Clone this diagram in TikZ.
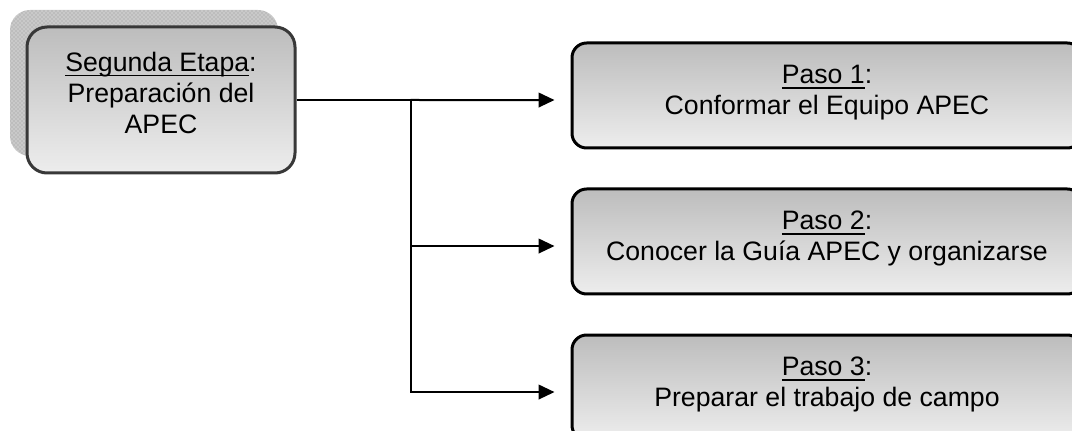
\documentclass[tikz,border=0pt]{standalone}
\usepackage{fontspec}
\setmainfont{Liberation Sans}
\usetikzlibrary{positioning}
\usetikzlibrary{arrows.meta}
\usetikzlibrary{shadows}
\usetikzlibrary{patterns}

\definecolor{boxtop}{gray}{0.74}
\definecolor{boxbot}{gray}{0.93}
\definecolor{etapaline}{gray}{0.22}

\newcommand{\ulword}[1]{\setbox0\hbox{#1}\rlap{\rule[-4pt]{\wd0}{1.3pt}}\box0}

\begin{document}
\begin{tikzpicture}[x=0.75pt, y=-0.75pt, node distance=28.5pt,
  etapabox/.style={draw=etapaline, line width=2.25pt, rounded corners=15pt,
    top color=boxtop, bottom color=boxbot,
    minimum width=201pt, minimum height=109.5pt,
    general shadow={shadow xshift=-12.75pt, shadow yshift=12.75pt, fill=gray!42},
    general shadow={shadow xshift=-12.75pt, shadow yshift=12.75pt,
      pattern=crosshatch dots, pattern color=gray!80}},
  stepbox/.style={draw=black, line width=2.25pt, rounded corners=11pt,
    top color=boxtop, bottom color=boxbot,
    minimum width=382.5pt, minimum height=78.75pt},
  boxtext/.style={align=center, font=\fontsize{20pt}{23.25pt}\selectfont, inner sep=0pt},
  flow/.style={-{Triangle[length=12pt,width=11pt]}, line width=1.5pt, shorten >=12pt},
  link/.style={line width=1.5pt}]
\useasboundingbox (0,0) rectangle (1072,431);
\clip (0,0) rectangle (1072,431);
%%%%%%%%%%%%%%%%%%%%%%%%%%%%%%%%%%%%%
\node[etapabox] (etapa) at (161,100) {};
\node[boxtext] (etapatxt) at ([yshift=5.6pt]etapa.center) {\ulword{Segunda Etapa}:\\Preparación del\\APEC};
%%%%%%%%%%%%%%%%%%%%%%%%%%%%%%%%%%%%%
\node[stepbox] (p1) at (827,95.5) {};
\node[stepbox, below=of p1] (p2) {};
\node[stepbox, below=of p2] (p3) {};
\node[boxtext] (p1txt) at ([yshift=2pt]p1.center) {\ulword{Paso 1}:\\Conformar el Equipo APEC};
\node[boxtext] (p2txt) at ([yshift=2pt]p2.center) {\ulword{Paso 2}:\\Conocer la Guía APEC y organizarse};
\node[boxtext] (p3txt) at ([yshift=2pt]p3.center) {\ulword{Paso 3}:\\Preparar el trabajo de campo};
%%%%%%%%%%%%%%%%%%%%%%%%%%%%%%%%%%%%%
\coordinate[right=85.5pt of etapa.east] (split);

\draw[link] (etapa.east) -- (split);
\draw[flow] (split) -- ([yshift=-3.4pt]p1.west);
\draw[flow] (split) |- ([yshift=-3.4pt]p2.west);
\draw[flow] (split) |- ([yshift=-3.4pt]p3.west);
\end{tikzpicture}
\end{document}
